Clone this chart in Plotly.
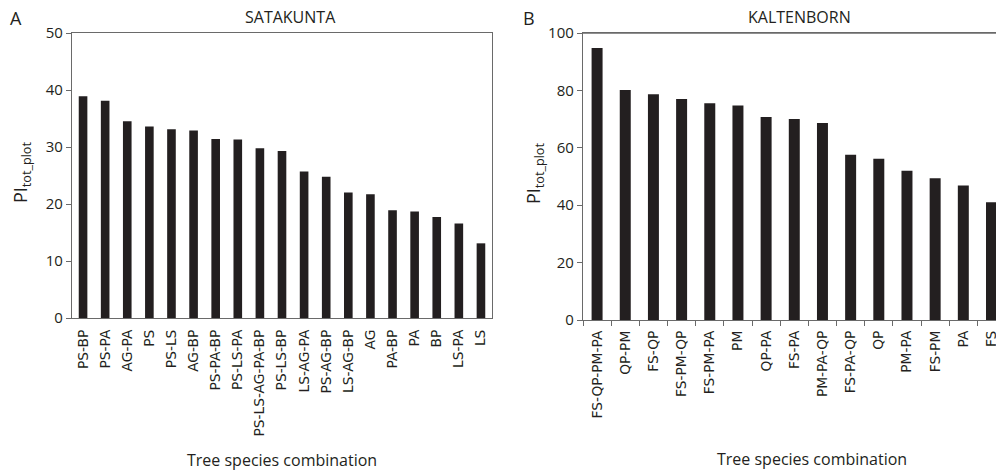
import plotly.graph_objects as go

sat_species = ["PS-BP", "PS-PA", "AG-PA", "PS", "PS-LS", "AG-BP", "PS-PA-BP", "PS-LS-PA",
               "PS-LS-AG-PA-BP", "PS-LS-BP", "LS-AG-PA", "PS-AG-BP", "LS-AG-BP", "AG",
               "PA-BP", "PA", "BP", "LS-PA", "LS"]
sat_values = [38.9, 38.1, 34.5, 33.6, 33.1, 32.9, 31.4, 31.3, 29.8, 29.3, 25.7, 24.8,
              22.0, 21.7, 18.9, 18.7, 17.7, 16.6, 13.1]

kal_species = ["FS-QP-PM-PA", "QP-PM", "FS-QP", "FS-PM-QP", "FS-PM-PA", "PM", "QP-PA",
               "FS-PA", "PM-PA-QP", "FS-PA-QP", "QP", "PM-PA", "FS-PM", "PA", "FS"]
kal_values = [94.8, 80.1, 78.7, 77.0, 75.5, 74.7, 70.7, 70.0, 68.6, 57.6, 56.2, 52.0,
              49.4, 46.9, 41.0]

W, H = 996, 470
BAR = "#231f20"
LINE = "#6a6a6a"
TXT = "#231f20"

def px(x):
    return x / W

def py(y):
    return 1 - y / H

fig = go.Figure()
fig.add_trace(go.Bar(x=sat_species, y=sat_values, marker=dict(color=BAR, line=dict(width=0)),
                     xaxis="x", yaxis="y", showlegend=False, hoverinfo="skip"))
fig.add_trace(go.Bar(x=kal_species, y=kal_values, marker=dict(color=BAR, line=dict(width=0)),
                     xaxis="x2", yaxis="y2", showlegend=False, hoverinfo="skip"))

tickfont_x = dict(family="DejaVu Sans", size=13.8, color=TXT)
tickfont_y = dict(family="Open Sans", size=15, color=TXT)

fig.update_layout(
    width=W, height=H,
    margin=dict(l=0, r=0, t=0, b=0, pad=0),
    paper_bgcolor="white", plot_bgcolor="white",
    bargap=0.61,
    xaxis=dict(domain=[px(72), px(492)], anchor="y", type="category", automargin=False,
               range=[-0.5, 18.5], showline=True, linecolor=LINE, linewidth=1.3,
               mirror=True, ticks="", tickangle=-90, tickfont=tickfont_x,
               ticklabelstandoff=5, showgrid=False, zeroline=False),
    yaxis=dict(domain=[py(318), py(33)], anchor="x", range=[0, 50], dtick=10, automargin=False,
               showline=True, linecolor=LINE, linewidth=1.3, mirror=True,
               ticks="outside", ticklen=5, tickcolor=LINE, tickfont=tickfont_y,
               showgrid=False, zeroline=False),
    xaxis2=dict(domain=[px(583), 1.0], anchor="y2", type="category", automargin=False,
                range=[-0.5, 14.16], showline=True, linecolor=LINE, linewidth=1.3,
                mirror=True, ticks="outside", ticklen=5, tickcolor=LINE,
                tickson="boundaries", tickangle=-90, tickfont=tickfont_x,
                ticklabelstandoff=4, showgrid=False, zeroline=False),
    yaxis2=dict(domain=[py(320), py(33)], anchor="x2", range=[0, 100], dtick=20, automargin=False,
                showline=True, linecolor=LINE, linewidth=1.3, mirror=False,
                ticks="outside", ticklen=5, tickcolor=LINE, tickfont=tickfont_y,
                showgrid=False, zeroline=False),
)

# top frame line of panel B
fig.add_shape(type="line", xref="x2 domain", yref="y2 domain", x0=0, x1=1, y0=1, y1=1,
              line=dict(color=LINE, width=1.3), layer="above")

ann_font = dict(family="Open Sans", size=16, color=TXT)
annotations = [
    dict(text="A", x=px(16), y=py(18), font=dict(family="Open Sans", size=18, color=TXT)),
    dict(text="B", x=px(529), y=py(18), font=dict(family="Open Sans", size=18, color=TXT)),
    dict(text="SATAKUNTA", x=px(290), y=py(17), font=ann_font),
    dict(text="KALTENBORN", x=px(799), y=py(17), font=ann_font),
    dict(text="Tree species combination", x=px(282), y=py(460),
         font=dict(family="Open Sans", size=16, color=TXT)),
    dict(text="Tree species combination", x=px(812), y=py(459),
         font=dict(family="Open Sans", size=16, color=TXT)),
    dict(text="PI<sub>tot_plot</sub>", x=px(22), y=py(173), textangle=-90,
         font=dict(family="Open Sans", size=18, color=TXT)),
    dict(text="PI<sub>tot_plot</sub>", x=px(534), y=py(174), textangle=-90,
         font=dict(family="Open Sans", size=18, color=TXT)),
]
for a in annotations:
    a.update(xref="paper", yref="paper", showarrow=False, xanchor="center", yanchor="middle")
fig.update_layout(annotations=annotations)

fig.write_html(
    "out.html",
    config={"displayModeBar": False},
    post_script="document.body.style.margin='0';document.body.style.overflow='hidden';",
)
